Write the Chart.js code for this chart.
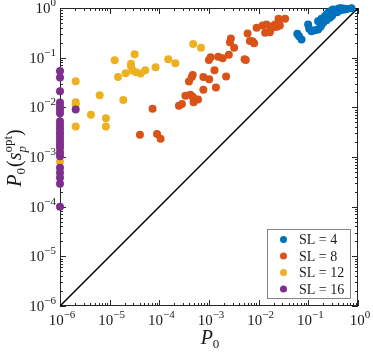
<!DOCTYPE html>
<html>
<head>
<meta charset="utf-8">
<script src="https://cdn.jsdelivr.net/npm/chart.js@4/dist/chart.umd.min.js"></script>
<style>
html, body { margin: 0; padding: 0; background: #fff; }
#wrap { width: 373px; height: 352px; }
</style>
</head>
<body>
<div id="wrap"><canvas id="chart"></canvas></div>
<script>
// values
var seriesLabels = ['SL = 4', 'SL = 8', 'SL = 12', 'SL = 16'];
var seriesColors = ['#0072BD', '#D95319', '#EDB120', '#7E2F8E'];
var decades = [-6, -5, -4, -3, -2, -1, 0];

var sl4X = [0.06, 0.065, 0.073, 0.099, 0.104, 0.116, 0.135, 0.157, 0.176, 0.184, 0.157, 0.184, 0.215, 0.232, 0.25,
            0.271, 0.293, 0.315, 0.341, 0.369, 0.398, 0.43, 0.465, 0.5, 0.542, 0.199, 0.232, 0.271, 0.74,
            0.38, 0.45, 0.3, 0.2, 0.27, 0.6];
var sl4Y = [0.302, 0.27, 0.232, 0.465, 0.381, 0.341, 0.357, 0.369, 0.418, 0.465, 0.542, 0.606, 0.684, 0.74, 0.80,
            0.823, 0.891, 0.933, 0.861, 0.903, 0.963, 0.99, 0.98, 0.977, 0.933, 0.503, 0.568, 0.634, 0.99,
            0.82, 0.9, 0.7, 0.6, 0.76, 0.95];

var sl8X = [4.07e-5, 7.3e-5, 9.0e-5, 1.06e-4, 2.48e-4, 2.85e-4, 3.35e-4, 4.2e-4, 4.7e-4, 5.1e-4, 6.0e-4, 4.9e-4,
            3.95e-4, 4.5e-4, 4.7e-4, 7.7e-4, 7.7e-4, 1.01e-3, 1.29e-3, 1.38e-3, 9.95e-4, 1.08e-3, 1.53e-3, 1.88e-3,
            2.21e-3, 2.51e-3, 2.64e-3, 2.76e-3, 3.21e-3, 5.2e-3, 5.5e-3, 5.98e-3, 6.65e-3, 7.5e-3, 8.1e-3, 9.1e-3,
            1.2e-2, 1.44e-2, 1.35e-2, 1.68e-2, 1.73e-2, 1.87e-2, 2.02e-2, 2.15e-2, 2.35e-2, 2.51e-2, 2.51e-2, 2.67e-2, 3.41e-2];
var sl8Y = [2.82e-3, 9.4e-3, 2.91e-3, 2.34e-3, 1.08e-2, 1.17e-2, 1.72e-2, 1.80e-2, 1.64e-2, 1.48e-2, 1.43e-2, 1.27e-2,
            3.3e-2, 4.06e-2, 4.46e-2, 4.06e-2, 2.27e-2, 3.67e-2, 5.57e-2, 2.5e-2, 9.0e-2, 0.102, 0.104, 9.7e-2,
            4.2e-2, 0.115, 0.204, 0.243, 0.158, 9.3e-2, 9.0e-2, 0.306, 0.216, 0.214, 0.195, 0.399,
            0.444, 0.465, 0.316, 0.325, 0.381, 0.43, 0.41, 0.465, 0.418, 0.606, 0.503, 0.444, 0.606];

var sl12X = [2.07e-6, 2.07e-6, 2.07e-6, 2.07e-6, 4.2e-6, 6.3e-6, 8.4e-6, 8.4e-6, 1.26e-5, 1.47e-5, 1.88e-5, 2.1e-5,
             2.69e-5, 2.69e-5, 3.18e-5, 2.9e-5, 3.38e-5, 4.2e-5, 5.2e-5, 8.4e-5, 1.51e-4, 2.1e-4, 4.8e-4, 6.9e-4, 1e-6, 1e-6];
var sl12Y = [3.34e-2, 1.26e-2, 1.12e-2, 4.1e-3, 7.1e-3, 1.75e-2, 6.0e-3, 4.1e-3, 8.9e-2, 4.1e-2, 1.41e-2, 4.85e-2,
             7.5e-2, 6.7e-2, 0.117, 5.5e-2, 5.1e-2, 4.8e-2, 5.6e-2, 6.4e-2, 9.3e-2, 7.7e-2, 0.188, 0.158, 1.34e-3, 8.0e-4];

var sl16X = [1e-6, 1e-6, 1e-6, 1e-6, 1e-6, 1e-6, 1e-6, 1e-6, 1e-6, 1e-6, 1e-6, 1e-6,
             1e-6, 1e-6, 1e-6, 1e-6, 1e-6, 1e-6, 1e-6, 1e-6, 1e-6, 1e-6, 1e-6, 2.07e-6];
var sl16Y = [0.0537, 0.0397, 0.0212, 0.01244, 0.01057, 0.0090, 0.00764, 0.00527, 0.00448, 0.00381, 0.00324, 0.00282,
             0.00239, 0.00203, 0.00177, 0.00154, 0.00122, 0.00104, 0.00061, 0.00048, 0.00038, 0.00029, 0.0001, 0.009];

var diagX = [1e-6, 1];
var diagY = [1e-6, 1];

function pairs(xs, ys) {
    let out = [];
    for(let i=0; i<xs.length; i++) {
        out.push({x: xs[i], y: ys[i]});
    }
    return out;
}

function pointSet(label, color, xs, ys, order) {
    return {
        type: 'scatter',
        label: label,
        data: pairs(xs, ys),
        backgroundColor: color,
        borderColor: color,
        borderWidth: 0,
        pointRadius: 4,
        pointHoverRadius: 4,
        clip: false,
        order: order
    };
}

var SERIF = "'Liberation Serif', 'DejaVu Serif', serif";
var AXIS = '#262626';

// draw a run of pieces {t, f, dy} starting at x, baseline y
function runWidth(ctx, parts) {
    let w = 0;
    for(let p of parts) {
        ctx.font = p.f;
        let pw = ctx.measureText(p.t).width;
        if(p.stack) {
            ctx.font = p.stack.f;
            pw = Math.max(pw, ctx.measureText(p.stack.t).width);
        }
        w += pw + (p.gap || 0);
    }
    return w;
}
function drawRun(ctx, parts, x, y) {
    ctx.textAlign = 'left';
    ctx.textBaseline = 'alphabetic';
    for(let p of parts) {
        ctx.font = p.f;
        let pw = ctx.measureText(p.t).width;
        ctx.fillText(p.t, x, y + (p.dy || 0));
        if(p.stack) {
            ctx.font = p.stack.f;
            pw = Math.max(pw, ctx.measureText(p.stack.t).width);
            ctx.fillText(p.stack.t, x, y + p.stack.dy);
        }
        x += pw + (p.gap || 0);
    }
}
function powParts(e) {
    return [
        {t: '10', f: '15px ' + SERIF},
        {t: (e < 0 ? '\u2212' + (-e) : '' + e), f: '11px ' + SERIF, dy: -7}
    ];
}

var framePlugin = {
    id: 'frame',
    beforeDatasetsDraw(chart) {
        let ctx = chart.ctx, a = chart.chartArea;
        let xs = chart.scales.x, ys = chart.scales.y;
        ctx.save();
        ctx.strokeStyle = AXIS;
        ctx.lineWidth = 1;
        ctx.strokeRect(Math.round(a.left) + 0.5, Math.round(a.top) + 0.5,
                       Math.round(a.right - a.left) - 1, Math.round(a.bottom - a.top) - 1);
        // inward ticks on all four sides
        ctx.beginPath();
        for(let e of decades) {
            for(let m=1; m<10; m++) {
                let v = m * Math.pow(10, e);
                if(v > 1.0000001) break;
                let len = (m == 1) ? 6 : 3;
                let px = Math.round(xs.getPixelForValue(v)) + 0.5;
                ctx.moveTo(px, a.bottom); ctx.lineTo(px, a.bottom - len);
                ctx.moveTo(px, a.top); ctx.lineTo(px, a.top + len);
                let py = Math.round(ys.getPixelForValue(v)) + 0.5;
                ctx.moveTo(a.left, py); ctx.lineTo(a.left + len, py);
                ctx.moveTo(a.right, py); ctx.lineTo(a.right - len, py);
            }
        }
        ctx.stroke();
        ctx.restore();
    },
    afterDraw(chart) {
        let ctx = chart.ctx, a = chart.chartArea;
        let xs = chart.scales.x, ys = chart.scales.y;
        ctx.save();
        ctx.fillStyle = '#1a1a1a';

        // tick labels
        for(let e of decades) {
            let parts = powParts(e);
            let w = runWidth(ctx, parts);
            let px = xs.getPixelForValue(Math.pow(10, e));
            drawRun(ctx, parts, px - w / 2 + 2, a.bottom + 19);
            let py = ys.getPixelForValue(Math.pow(10, e));
            drawRun(ctx, parts, a.left - 4 - w, py + 5);
        }

        // x title
        let xt = [
            {t: 'P', f: 'italic 20px ' + SERIF},
            {t: '0', f: '13px ' + SERIF, dy: 4}
        ];
        let xw = runWidth(ctx, xt);
        drawRun(ctx, xt, (a.left + a.right) / 2 - xw / 2 + 1, 344);

        // y title, rotated
        let yt = [
            {t: 'P', f: 'italic 20px ' + SERIF},
            {t: '0', f: '13px ' + SERIF, dy: 4, gap: 1},
            {t: '(', f: '20px ' + SERIF},
            {t: 's', f: 'italic 20px ' + SERIF},
            {t: 'p', f: 'italic 13px ' + SERIF, dy: 5, stack: {t: 'opt', f: '13px ' + SERIF, dy: -9}},
            {t: ')', f: '20px ' + SERIF}
        ];
        let yw = runWidth(ctx, yt);
        ctx.save();
        ctx.translate(21, 158);
        ctx.rotate(-Math.PI / 2);
        drawRun(ctx, yt, -yw / 2, 0);
        ctx.restore();

        // legend box
        let lx = 267, ly = 229, lw = 83, lh = 69;
        ctx.fillStyle = '#fff';
        ctx.fillRect(lx, ly, lw, lh);
        ctx.strokeStyle = '#858585';
        ctx.lineWidth = 1;
        ctx.strokeRect(lx + 0.5, ly + 0.5, lw, lh);
        ctx.font = '14px ' + SERIF;
        ctx.textAlign = 'left';
        ctx.textBaseline = 'middle';
        for(let i=0; i<seriesLabels.length; i++) {
            let cy = 239.5 + i * 16.5;
            ctx.fillStyle = seriesColors[i];
            ctx.beginPath();
            ctx.arc(283.5, cy, 3.5, 0, Math.PI * 2);
            ctx.fill();
            ctx.fillStyle = '#1a1a1a';
            ctx.fillText(seriesLabels[i], 299, cy + 1);
        }
        ctx.restore();
    }
};

var ctx = document.getElementById('chart').getContext('2d');
var chart = new Chart(ctx, {
    data: {
        datasets: [
            {
                type: 'line',
                label: 'diag',
                data: pairs(diagX, diagY),
                borderColor: '#000',
                borderWidth: 1.5,
                pointRadius: 0,
                fill: false,
                order: 10
            },
            pointSet(seriesLabels[0], seriesColors[0], sl4X, sl4Y, 4),
            pointSet(seriesLabels[1], seriesColors[1], sl8X, sl8Y, 3),
            pointSet(seriesLabels[2], seriesColors[2], sl12X, sl12Y, 2),
            pointSet(seriesLabels[3], seriesColors[3], sl16X, sl16Y, 1)
        ]
    },
    options: {
        responsive: true,
        maintainAspectRatio: false,
        animation: false,
        devicePixelRatio: 1,
        layout: {
            padding: { left: 0, top: 8, right: 15, bottom: 0 }
        },
        plugins: {
            legend: { display: false },
            tooltip: { enabled: false }
        },
        scales: {
            x: {
                type: 'logarithmic',
                min: 1e-6,
                max: 1,
                grid: { display: false },
                border: { display: false },
                ticks: { display: false },
                afterFit: function(s) { s.height = 46; }
            },
            y: {
                type: 'logarithmic',
                min: 1e-6,
                max: 1,
                grid: { display: false },
                border: { display: false },
                ticks: { display: false },
                afterFit: function(s) { s.width = 60; }
            }
        }
    },
    plugins: [framePlugin]
});
</script>
</body>
</html>
